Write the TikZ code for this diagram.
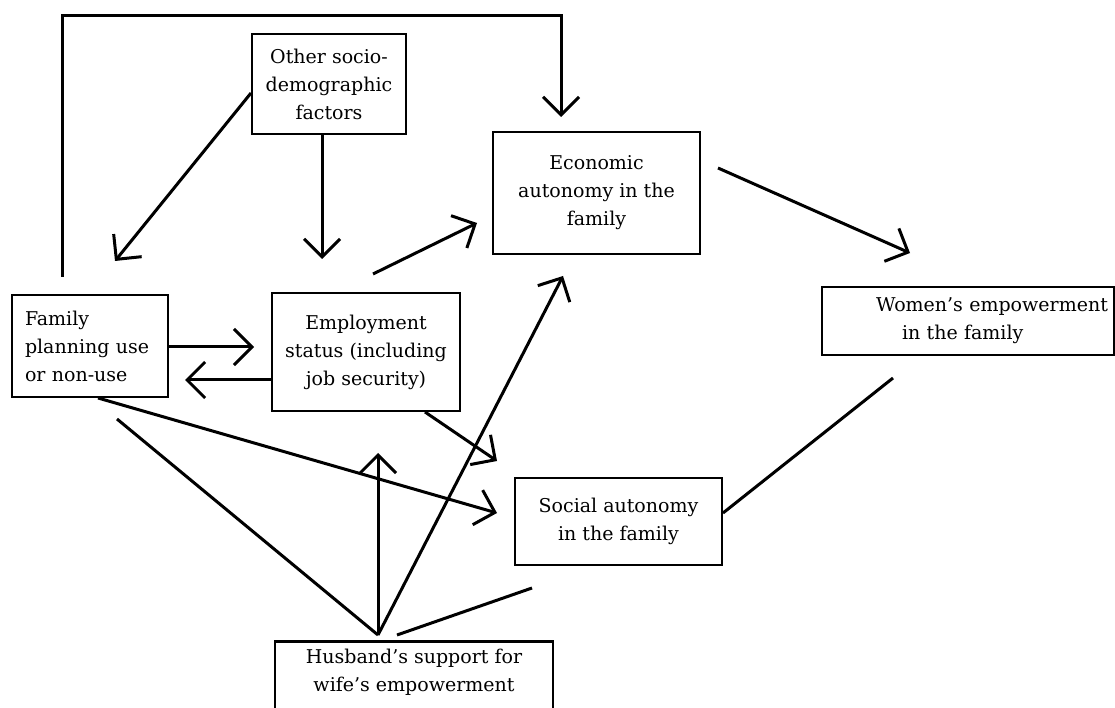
\documentclass[tikz,border=0pt]{standalone}
\usepackage{fontspec}
\setmainfont{DejaVu Serif}
\usetikzlibrary{arrows.meta}

\tikzset{
  box/.style={draw, line width=2pt, inner sep=0pt, align=center, font=\fontsize{19}{28}\selectfont},
  arr/.style={line width=3pt, -{Straight Barb[length=18pt,width=36pt]}},
  ln/.style={line width=3pt}
}

\begin{document}
\begin{tikzpicture}[x=1pt,y=1pt]
\path[use as bounding box, clip] (0,0) rectangle (1115,707);

\node[box, minimum width=154pt, minimum height=100pt] (oth) at (329,623) {Other socio-\\demographic\\factors};
\node[box, minimum width=207pt, minimum height=122pt] (eco) at (596.5,514) {Economic\\autonomy in the\\family};
\node[box, text width=130pt, inner xsep=13pt, align=left, minimum height=102pt] (fam) at (90,361) {Family\\planning use\\or non-use};
\node[box, minimum width=188pt, minimum height=118pt] (emp) at (366,355) {Employment\\status (including\\job security)};
\node[box, text width=292pt, align=left, minimum height=68pt] (wom) at (968,386) {\hspace*{54pt}Women's empowerment\\\hspace*{80pt}in the family};
\node[box, minimum width=207pt, minimum height=87pt] (soc) at (618.5,185.5) {Social autonomy\\in the family};
\node[box, line width=2.8pt, minimum width=278pt, inner ysep=8pt, anchor=north] (hus) at (414,67) {Husband's support for\\wife's empowerment\rule[-40pt]{0pt}{40pt}};

\coordinate (apex) at ([xshift=-36pt,yshift=5pt]hus.north);

\draw[arr] ([xshift=-28pt,yshift=17pt]fam.north) -- ++(0,261) -| ([xshift=-35.5pt,yshift=14pt]eco.north);
\draw[arr] ([yshift=-9pt]oth.west) -- ([xshift=25pt,yshift=33pt]fam.north);
\draw[arr] ([xshift=-7pt]oth.south) -- ([xshift=-44pt,yshift=33pt]emp.north);
\draw[arr] ([xshift=7pt,yshift=18pt]emp.north) -- ([xshift=-15pt,yshift=-30pt]eco.west);
\draw[arr] ([xshift=17pt,yshift=25pt]eco.east) -- ([xshift=-58pt,yshift=33pt]wom.north);
\draw[arr] ([yshift=-1pt]fam.east) -- ([xshift=-17pt,yshift=5pt]emp.west);
\draw[arr] ([yshift=-28pt]emp.west) -- ([xshift=16pt,yshift=-34pt]fam.east);
\draw[arr] ([xshift=8pt]fam.south) -- ([xshift=-17pt,yshift=8.5pt]soc.west);
\draw[arr] ([xshift=59pt]emp.south) -- ([xshift=-17pt,yshift=16pt]soc.north west);
\draw[arr] (apex) -- ([xshift=12pt,yshift=-41pt]emp.south);
\draw[arr] (apex) -- ([xshift=-33.5pt,yshift=-21pt]eco.south);
\draw[ln] (apex) -- ([xshift=27pt,yshift=-21pt]fam.south);
\draw[ln] ([xshift=-17pt,yshift=5pt]hus.north) -- ([xshift=18pt,yshift=-22pt]soc.south west);
\draw[ln] ([yshift=8.5pt]soc.east) -- ([xshift=-75pt,yshift=-22pt]wom.south);

\end{tikzpicture}
\end{document}
